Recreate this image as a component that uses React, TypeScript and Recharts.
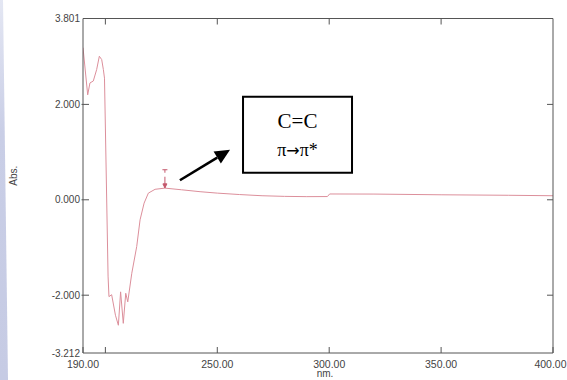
import { LineChart, Line, XAxis, YAxis, ReferenceArea, ReferenceLine } from 'recharts';

// wavelength (nm) and absorbance
const wavelengths = [
  190, 192.1, 193.1, 194.6, 196.1, 197.3, 198.35, 199.1, 199.6, 201.2, 201.6, 202.8, 204.5, 205.8,
  206.8, 208.0, 209.1, 210.0, 211.8, 214.0, 215.5, 217.3, 219.2, 222.2, 226.6, 234, 242.3, 250,
  260, 270, 280, 290, 299.2, 300.2, 320, 350, 380, 400,
];
const absorbance = [
  3.19, 2.2, 2.45, 2.49, 2.73, 3.01, 2.94, 2.73, 2.55, -1.6, -2.03, -1.99, -2.42, -2.63,
  -1.93, -2.59, -1.96, -2.14, -1.54, -0.98, -0.42, -0.07, 0.14, 0.22, 0.245, 0.21, 0.17, 0.14,
  0.11, 0.085, 0.072, 0.066, 0.068, 0.122, 0.12, 0.105, 0.095, 0.085,
];

const xTicks = [190, 200, 250, 300, 350, 400];
const xTopTicks = [200, 250, 300, 350];
const yTicks = [3.801, 2, 0, -2, -3.212];
const yInnerTicks = [2, 0, -2];

// annotation: peak wavelength and the labelled box
const peakNm = 226.6;
const peakMarker = [0.63, 0.25];
const arrowFrom = { x: 233.3, y: 0.41 };
const arrowTo = { x: 255.7, y: 1.05 };
const boxRange = { x1: 261.5, x2: 310.2, y1: 0.566, y2: 2.163 };

const data = wavelengths.map((nm, i) => ({ nm, abs: absorbance[i] }));

const AXIS = '#555';
const TEXT = '#444';
const SANS = '"Liberation Sans", Arial, sans-serif';
const SERIF = '"Liberation Serif", "Times New Roman", serif';

const BottomTick = (props: any) => {
  const { x, y, payload } = props;
  const v = payload.value;
  const last = v === 400;
  return (
    <g>
      <line x1={x} y1={y} x2={x} y2={y - 6} stroke={AXIS} />
      {v !== 200 && (
        <text
          x={last ? x + 13.5 : x}
          y={y + 14.5}
          textAnchor={last ? 'end' : 'middle'}
          fontSize={10.5}
          fontFamily={SANS}
          fill={TEXT}
        >
          {v.toFixed(2)}
        </text>
      )}
    </g>
  );
};

const TopTick = (props: any) => {
  const { x, y } = props;
  return <line x1={x} y1={y} x2={x} y2={y + 6} stroke={AXIS} />;
};

const LeftTick = (props: any) => {
  const { x, y, payload } = props;
  const v = payload.value;
  const inner = yInnerTicks.includes(v);
  return (
    <g>
      {inner && <line x1={x - 1.5} y1={y} x2={x + 6} y2={y} stroke={AXIS} />}
      <text x={x - 3} y={y + 3.5} textAnchor="end" fontSize={10} fontFamily={SANS} fill={TEXT}>
        {v.toFixed(3)}
      </text>
    </g>
  );
};

const RightTick = (props: any) => {
  const { x, y } = props;
  return <line x1={x} y1={y} x2={x - 6} y2={y} stroke={AXIS} />;
};

const ArrowShape = (props: any) => {
  const { x1, y1, x2, y2 } = props;
  const a = Math.atan2(y2 - y1, x2 - x1);
  const len = 15;
  const half = 7;
  const bx = x2 - len * Math.cos(a);
  const by = y2 - len * Math.sin(a);
  const px = -Math.sin(a) * half;
  const py = Math.cos(a) * half;
  return (
    <g>
      <line x1={x1} y1={y1} x2={bx} y2={by} stroke="#000" strokeWidth={2.6} />
      <polygon points={`${x2},${y2} ${bx + px},${by + py} ${bx - px},${by - py}`} fill="#000" />
    </g>
  );
};

const PeakShape = (props: any) => {
  const { x1, y1, x2, y2 } = props;
  const top = Math.min(y1, y2);
  const bottom = Math.max(y1, y2);
  return (
    <g stroke="#c4586c" strokeWidth={1}>
      <line x1={x1 - 2.5} y1={top} x2={x1 + 2.5} y2={top} />
      <line x1={x1} y1={top} x2={x1} y2={top + 3} />
      <line x1={x2} y1={top + 7} x2={x2} y2={bottom} />
      <polygon points={`${x2},${bottom} ${x2 - 2},${bottom - 4} ${x2 + 2},${bottom - 4}`} fill="#c4586c" />
    </g>
  );
};

const BoxLabel = (props: any) => {
  const { viewBox } = props;
  const { x, y, width, height } = viewBox;
  const cx = x + width / 2;
  return (
    <g fontFamily={SERIF} fill="#000" textAnchor="middle">
      <text x={cx} y={y + height * 0.41} fontSize={21}>
        C=C
      </text>
      <text x={cx} y={y + height * 0.78} fontSize={18}>
        π<tspan fontFamily='"DejaVu Sans", sans-serif' fontSize={16}>→</tspan>π*
      </text>
    </g>
  );
};

export default function App() {
  return (
    <div style={{ position: 'absolute', left: 0, top: 0, width: 567, height: 380, background: '#fff' }}>
      <svg width={12} height={380} style={{ position: 'absolute', left: 0, top: 0 }}>
        <defs>
          <linearGradient id="band" x1="0" y1="0" x2="0" y2="1">
            <stop offset="0%" stopColor="#e4e7f3" />
            <stop offset="35%" stopColor="#c9cee6" />
            <stop offset="100%" stopColor="#c6cbe4" />
          </linearGradient>
        </defs>
        <polygon points="0,0 3,0 8,380 0,380" fill="url(#band)" />
      </svg>
      <LineChart
        width={567}
        height={380}
        data={data}
        margin={{ top: 0.5, right: 0, left: 3, bottom: 0 }}
        style={{ position: 'absolute', left: 0, top: 0 }}
      >
        <XAxis
          dataKey="nm"
          type="number"
          domain={[190, 400]}
          ticks={xTicks}
          allowDataOverflow
          stroke={AXIS}
          tickLine={false}
          tickSize={0}
          tickMargin={0}
          height={27}
          interval={0}
          tick={(p: any) => <BottomTick {...p} />}
          label={{ value: 'nm.', position: 'insideBottom', offset: 3, dx: 7, fontSize: 10, fontFamily: SANS, fill: TEXT }}
        />
        <XAxis
          xAxisId="top"
          orientation="top"
          dataKey="nm"
          type="number"
          domain={[190, 400]}
          ticks={xTopTicks}
          allowDataOverflow
          stroke={AXIS}
          tickLine={false}
          tickSize={0}
          tickMargin={0}
          height={18}
          interval={0}
          tick={(p: any) => <TopTick {...p} />}
        />
        <YAxis
          type="number"
          domain={[-3.212, 3.801]}
          ticks={yTicks}
          allowDataOverflow
          stroke={AXIS}
          tickLine={false}
          tickSize={0}
          tickMargin={0}
          width={80}
          interval={0}
          tick={(p: any) => <LeftTick {...p} />}
          label={{ value: 'Abs.', angle: -90, position: 'insideLeft', offset: 10, fontSize: 10, fontFamily: SANS, fill: TEXT }}
        />
        <YAxis
          yAxisId="right"
          orientation="right"
          type="number"
          domain={[-3.212, 3.801]}
          ticks={yInnerTicks}
          allowDataOverflow
          stroke={AXIS}
          tickLine={false}
          tickSize={0}
          tickMargin={0}
          width={14}
          interval={0}
          tick={(p: any) => <RightTick {...p} />}
        />
        <Line
          type="linear"
          dataKey="abs"
          stroke="#dc8f9b"
          strokeWidth={1}
          dot={false}
          activeDot={false}
          isAnimationActive={false}
        />
        <ReferenceLine
          segment={[
            { x: peakNm, y: peakMarker[0] },
            { x: peakNm, y: peakMarker[1] },
          ]}
          shape={(p: any) => <PeakShape {...p} />}
        />
        <ReferenceLine
          segment={[
            { x: arrowFrom.x, y: arrowFrom.y },
            { x: arrowTo.x, y: arrowTo.y },
          ]}
          shape={(p: any) => <ArrowShape {...p} />}
        />
        <ReferenceArea
          x1={boxRange.x1}
          x2={boxRange.x2}
          y1={boxRange.y1}
          y2={boxRange.y2}
          fill="#fff"
          fillOpacity={1}
          stroke="#000"
          strokeWidth={2}
          label={(p: any) => <BoxLabel {...p} />}
        />
      </LineChart>
    </div>
  );
}
